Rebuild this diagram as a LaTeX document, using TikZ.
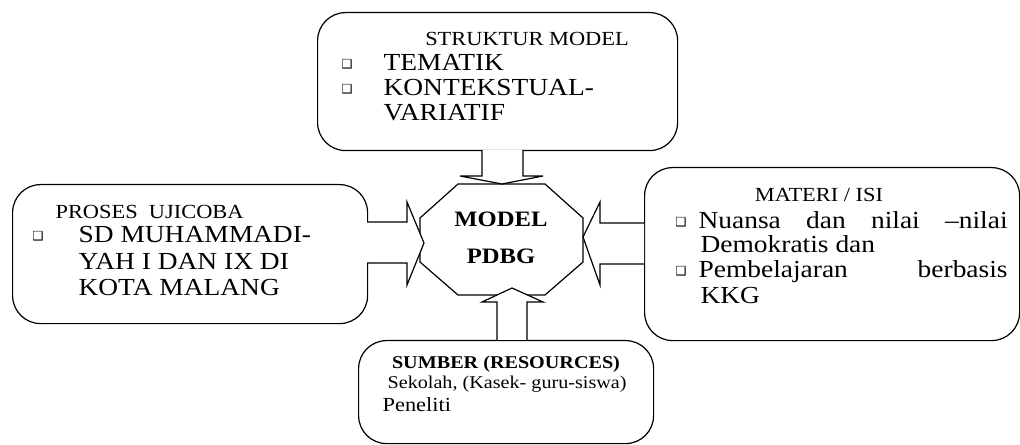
\documentclass[tikz,border=0pt]{standalone}
\usepackage{fontspec}
\setmainfont{Liberation Serif}[FakeStretch=1.12]
\newfontfamily\symf{DejaVu Sans}
\begin{document}
\begin{tikzpicture}[x=1bp,y=-1bp,
  line width=1.2bp,
  box/.style={draw, rounded corners=28bp, anchor=north west, inner sep=0pt},
  blockarrow/.style={draw, line join=miter, fill=white},
  txt/.style={inner sep=0pt, anchor=base west},
  ctxt/.style={inner sep=0pt, anchor=base},
  big/.style={font=\fontsize{24.5bp}{28bp}\selectfont},
  small/.style={font=\fontsize{20bp}{23bp}\selectfont},
  tiny/.style={font=\fontsize{18bp}{21bp}\selectfont},
  bul/.style={inner sep=0pt, anchor=center, font=\symf\fontsize{12.5bp}{13bp}\selectfont}
]
\useasboundingbox (0,0) rectangle (1020,445);

% boxes
\node[box, minimum width=360bp, minimum height=138bp] (topbox) at (317,12) {};
\node[box, minimum width=355bp, minimum height=139bp] (leftbox) at (12,184) {};
\node[box, minimum width=375bp, minimum height=173bp] (rightbox) at (644,167) {};
\node[box, minimum width=295bp, minimum height=103bp] (botbox) at (358,340) {};

% octagon
\draw[line join=miter] (458,184) -- (545,184) -- (583,218) -- (583,262) -- (545,295) -- (458,295) -- (420,262) -- (420,218) -- cycle;
\node[ctxt, font=\bfseries\fontsize{22bp}{26bp}\selectfont] (model) at (501,227) {MODEL};
\node[ctxt, font=\bfseries\fontsize{22bp}{26bp}\selectfont] (pdbg) at (501,264) {PDBG};

% block arrows
\coordinate (ta) at (482,150);
\draw[blockarrow] (ta) -- (482,176) -- (460,176) -- (502,184) -- (543,176) -- (523,176) -- (523,150);
\coordinate (ba) at (497,340);
\draw[blockarrow] (ba) -- (497,302) -- (482,302) -- (512,288) -- (543,302) -- (527,302) -- (527,340);
\coordinate (la) at (367,222);
\draw[blockarrow] (la) -- (407,222) -- (407,202) -- (424,243) -- (407,285) -- (407,263) -- (367,263);
\coordinate (ra) at (644,223);
\draw[blockarrow] (ra) -- (600,223) -- (600,202) -- (583,237) -- (600,285) -- (600,264) -- (644,264);

% top box text
\node[ctxt, small] (t0) at (527,45.5) {STRUKTUR MODEL};
\node[bul] (tb1) at (347,64) {❑};
\node[bul] (tb2) at (347,89) {❑};
\node[txt, big] (t1) at (383,71) {TEMATIK};
\node[txt, big] (t2) at (383,96) {KONTEKSTUAL-};
\node[txt, big] (t3) at (383,121) {VARIATIF};

% left box text
\node[txt, small] (l0) at (55,218.5) {PROSES\ \ UJICOBA};
\node[bul] (lb1) at (38,236) {❑};
\node[txt, big] (l1) at (78,243) {SD MUHAMMADI-};
\node[txt, big] (l2) at (78,270) {YAH I DAN IX DI};
\node[txt, big] (l3) at (78,296) {KOTA MALANG};

% right box text
\node[ctxt, small] (r0) at (819,201.5) {MATERI / ISI};
\node[bul] (rb1) at (681,222) {❑};
\node[bul] (rb2) at (681,271) {❑};
\node[txt, big] (r1) at (698,229) {\makebox[309bp][s]{Nuansa dan nilai –nilai}};
\node[txt, big] (r2) at (700,253) {Demokratis dan};
\node[txt, big] (r3) at (698,278) {\makebox[309bp][s]{Pembelajaran berbasis}};
\node[txt, big] (r4) at (700,304) {KKG};

% bottom box text
\node[ctxt, font=\bfseries\fontsize{18bp}{21bp}\selectfont] (b0) at (506,369) {SUMBER (RESOURCES)};
\node[txt, tiny] (b1) at (387,389) {Sekolah, (Kasek- guru-siswa)};
\node[txt, small] (b2) at (382,411.5) {Peneliti};
\end{tikzpicture}
\end{document}
